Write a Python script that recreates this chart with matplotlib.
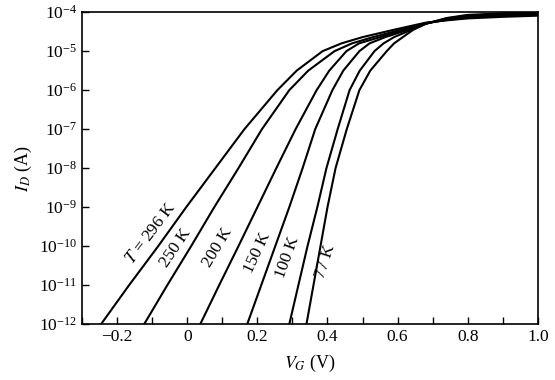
import numpy as np
import matplotlib.pyplot as plt
from matplotlib.ticker import LogLocator, NullLocator, MultipleLocator, LogFormatterMathtext

plt.rcParams['font.family'] = ['Liberation Serif', 'DejaVu Serif']
plt.rcParams['mathtext.fontset'] = 'stix'

# gate voltage (V) read at log10(I_D) levels, one list per temperature
temps = ['296', '250', '200', '150', '100', '77']

logI_sub = [-12, -11, -10, -9, -8, -7, -6, -5.5, -5, -4.8, -4.64, -4.45]
vg_296 = [-0.246, -0.166, -0.083, -0.003, 0.080, 0.163, 0.257, 0.312, 0.386, 0.440, 0.500, 0.590]
vg_250 = [-0.123, -0.057, 0.011, 0.077, 0.146, 0.213, 0.291, 0.345, 0.420, 0.470, 0.530, 0.610]
vg_200 = [0.037, 0.091, 0.146, 0.200, 0.254, 0.309, 0.369, 0.405, 0.454, 0.490, 0.550, 0.620]
vg_150 = [0.171, 0.211, 0.251, 0.291, 0.329, 0.365, 0.414, 0.445, 0.491, 0.520, 0.565, 0.630]
vg_100 = [0.291, 0.317, 0.343, 0.371, 0.397, 0.429, 0.463, 0.492, 0.534, 0.560, 0.590, 0.640]
vg_77 = [0.340, 0.360, 0.380, 0.400, 0.423, 0.455, 0.491, 0.522, 0.569, 0.590, 0.615, 0.645]

# upper part: log10(I_D) read at fixed gate voltages
vg_top = [0.68, 0.74, 0.80, 0.90, 1.00]
logI_296 = [-4.27, -4.21, -4.16, -4.12, -4.09]
logI_250 = [-4.28, -4.20, -4.14, -4.10, -4.07]
logI_200 = [-4.29, -4.19, -4.12, -4.07, -4.05]
logI_150 = [-4.29, -4.18, -4.11, -4.06, -4.04]
logI_100 = [-4.30, -4.16, -4.09, -4.04, -4.02]
logI_77 = [-4.30, -4.15, -4.07, -4.03, -4.01]

vg_sets = [vg_296, vg_250, vg_200, vg_150, vg_100, vg_77]
top_sets = [logI_296, logI_250, logI_200, logI_150, logI_100, logI_77]

# label text, anchor (VG, I_D), rotation
labels = ['$T$ = 296 K', '250 K', '200 K', '150 K', '100 K', '77 K']
label_x = [-0.102, -0.033, 0.088, 0.200, 0.287, 0.394]
label_y = [2.2e-10, 8.8e-11, 9.5e-11, 6.7e-11, 5.1e-11, 4.0e-11]
label_rot = [53, 56, 59, 65, 70, 72]

fig = plt.figure(figsize=(5.55, 3.8), dpi=100)
ax = fig.add_axes([0.148, 0.147, 0.821, 0.821])

for vg, top in zip(vg_sets, top_sets):
    x = list(vg) + vg_top
    y = [10.0 ** v for v in logI_sub] + [10.0 ** v for v in top]
    ax.plot(x, y, color='black', lw=1.5, solid_capstyle='round', solid_joinstyle='round')

for t, lx, ly, r in zip(labels, label_x, label_y, label_rot):
    ax.text(lx, ly, t, rotation=r, ha='center', va='center', fontsize=12.5,
            rotation_mode='anchor')

ax.set_yscale('log')
ax.set_xlim(-0.3, 1.0)
ax.set_ylim(1e-12, 1e-4)
ax.yaxis.set_major_locator(LogLocator(base=10, numticks=20))
ax.yaxis.set_major_formatter(LogFormatterMathtext())
ax.yaxis.set_minor_locator(NullLocator())
ax.xaxis.set_major_locator(MultipleLocator(0.2))
ax.xaxis.set_minor_locator(MultipleLocator(0.1))
ax.xaxis.set_major_formatter(plt.FuncFormatter(lambda v, p: '0' if abs(v) < 1e-9 else ('\u2212%.1f' % -v if v < 0 else '%.1f' % v)))

ax.tick_params(which='both', direction='in', labelsize=12.5, width=1.0)
ax.tick_params(which='major', length=5)
ax.tick_params(which='minor', length=5)
for s in ax.spines.values():
    s.set_linewidth(1.2)

ax.set_xlabel('$V_G$ (V)', fontsize=13, labelpad=6)
ax.set_ylabel('$I_D$ (A)', fontsize=13, labelpad=4)

fig.savefig('out.png', dpi=100)
